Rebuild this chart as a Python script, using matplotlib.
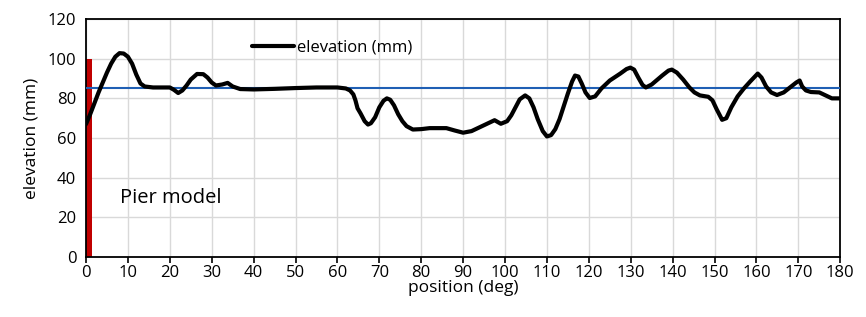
import numpy as np
import matplotlib.pyplot as plt

# -------------------------
# DATA
# -------------------------
position = [0, 1, 2, 3, 4, 5, 6, 7, 8, 9, 10, 11, 12, 13, 14, 16, 18, 20, 21, 22, 23, 24,
            25, 26.5, 28, 29, 30, 31, 32.5, 33.8, 35, 36.8, 40, 45, 50, 55, 60, 62, 63,
            63.8, 64.3, 64.8, 65.5, 66.5, 67.3, 68, 69, 70, 71, 71.8, 72.6, 73.5, 74.5, 75.5,
            76.5, 78, 80, 82, 86, 88, 90, 92, 94, 96, 97.5, 99, 100.5, 101.5, 102.5, 103.5,
            104.8, 105.8, 106.8, 107.8, 109, 110, 111, 112, 113, 114, 115, 116, 116.7, 117.5,
            118.3, 119.2, 120.2, 121.5, 123, 125, 127.5, 129, 129.9, 130.8, 131.8, 132.8,
            133.6, 135, 137.5, 139, 139.8, 141, 142.5, 144, 145.2, 146.5, 148.5, 149.5, 150.5,
            151.8, 152.8, 154, 155.5, 157, 158.5, 160.3, 161.2, 162.3, 163.5, 164.9, 166.5,
            168, 169.5, 170.3, 170.9, 171.8, 173, 175, 176.5, 178, 180]
elevation = [67, 72, 77.5, 83, 88, 93, 97.5, 101, 102.8, 102.6, 101, 97.5, 92, 87.5, 86,
             85.5, 85.5, 85.5, 84.3, 82.7, 84, 86.5, 89.5, 92.3, 92.2, 90.5, 88, 86.5, 87,
             87.8, 86, 84.7, 84.5, 84.8, 85.2, 85.5, 85.5, 85, 84, 82, 79, 75, 72.5, 68.5,
             66.8, 67.5, 70.5, 75.5, 78.8, 80, 79.3, 76.5, 72, 68.5, 66, 64.3, 64.5, 65,
             65, 63.8, 62.7, 63.5, 65.5, 67.5, 69, 67.2, 68.5, 71.5, 75.5, 79.5, 81.5, 80,
             75.5, 69.5, 63.5, 60.8, 61.5, 64.5, 69.5, 76, 82.5, 88.5, 91.5, 91, 87.5, 83,
             80.2, 81, 85, 89, 92.5, 94.8, 95.5, 94.5, 90.5, 86.8, 85.5, 87, 91.5, 94, 94.5,
             93, 89.5, 85.5, 83, 81.5, 80.8, 79, 74.5, 69.2, 70, 75.5, 81, 85, 88.5, 92.5,
             90.5, 86, 83, 81.7, 83, 85.5, 88, 89, 86, 84, 83.2, 83, 81.5, 80, 80]

mean_level = 85      # blue reference line (mm)
pier_height = 100    # pier model bar (mm)
pier_width = 1.5     # deg

xticks = np.arange(0, 181, 10)
yticks = np.arange(0, 121, 20)

# -------------------------
# PLOT
# -------------------------
plt.rcParams['font.family'] = ['Open Sans', 'DejaVu Sans']

fig = plt.figure(figsize=(8.66, 3.17), dpi=100, facecolor='w')
ax = fig.add_axes([0.0993, 0.189, 0.871, 0.751])

ax.bar(0, pier_height, width=pier_width, align='edge', color='#C00000', zorder=2)
ax.axhline(mean_level, color='#1F5FB4', lw=1.5, zorder=3)
ax.plot(position, elevation, color='black', lw=3, solid_joinstyle='round',
        solid_capstyle='round', zorder=4, label='elevation (mm)')

ax.set_xlim(0, 180)
ax.set_ylim(0, 120)
ax.set_xticks(xticks)
ax.set_yticks(yticks)
ax.grid(True, color='#d9d9d9', lw=1)
ax.set_axisbelow(True)
ax.tick_params(axis='x', length=4, width=1.2, labelsize=12, colors='black', pad=2)
ax.tick_params(axis='y', length=0, labelsize=12, pad=7)
for s in ax.spines.values():
    s.set_color('black')
    s.set_linewidth(1.3)

ax.set_xlabel('position (deg)', fontsize=12.5, labelpad=-1)
ax.set_ylabel('elevation (mm)', fontsize=12.5, labelpad=6)

ax.text(8, 30, 'Pier model', fontsize=14.5, va='center', ha='left')

ax.legend(loc='upper left', bbox_to_anchor=(0.2, 0.975), frameon=False, fontsize=12,
          handlelength=2.5, handletextpad=0.2)

fig.savefig('out.png', dpi=100)
